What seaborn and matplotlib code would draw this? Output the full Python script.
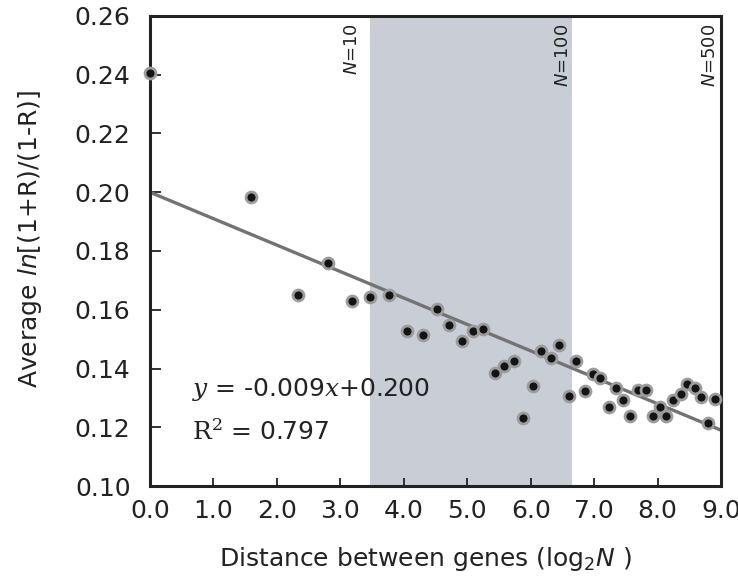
import numpy as np
import pandas as pd
import seaborn as sns
import matplotlib.pyplot as plt

# values
log2_dist = [0.00, 1.59, 2.33, 2.81, 3.19, 3.47, 3.77, 4.05, 4.30, 4.52,
             4.71, 4.91, 5.09, 5.25, 5.43, 5.58, 5.74, 5.88, 6.04, 6.16,
             6.32, 6.45, 6.60, 6.72, 6.85, 6.98, 7.10, 7.23, 7.34, 7.46,
             7.56, 7.69, 7.81, 7.92, 8.04, 8.14, 8.25, 8.37, 8.46, 8.59,
             8.69, 8.80, 8.91]
avg_ln = [0.2405, 0.1983, 0.1650, 0.1758, 0.1631, 0.1642, 0.1650, 0.1529, 0.1514, 0.1602,
          0.1548, 0.1494, 0.1528, 0.1533, 0.1386, 0.1410, 0.1426, 0.1230, 0.1341, 0.1460,
          0.1435, 0.1479, 0.1307, 0.1426, 0.1323, 0.1381, 0.1367, 0.1269, 0.1333, 0.1293,
          0.1239, 0.1327, 0.1327, 0.1239, 0.1268, 0.1239, 0.1293, 0.1312, 0.1348, 0.1333,
          0.1304, 0.1215, 0.1295]

marker_N = [10, 100, 500]
shade_range = [3.46, 6.65]
slope, intercept, r2 = -0.009, 0.200, 0.797

df = pd.DataFrame({"x": log2_dist, "y": avg_ln})

sns.set_style("ticks")
plt.rcParams["font.family"] = ["DejaVu Sans"]

fig = plt.figure(figsize=(7.38, 5.79), dpi=100)
ax = fig.add_axes([0.2033, 0.1606, 0.7737, 0.8118])

# shaded band between N~10 and N=100
ax.axvspan(shade_range[0], shade_range[1], color="#c9ced6", lw=0, zorder=0)

# fitted line spanning the whole x axis
xs = np.array([0.0, 9.05])
sns.lineplot(x=xs, y=intercept + slope * xs, ax=ax, color="#737373", lw=2.4, zorder=2)

sns.scatterplot(data=df, x="x", y="y", ax=ax, s=62, color="#141414",
                edgecolor="#9c9c9c", linewidth=2.0, zorder=3, clip_on=False)

for n in marker_N:
    ax.text(np.log2(n), 0.2575, f"$N$=" + str(n), rotation=90, ha="right", va="top",
            fontsize=13, color="#222222", math_fontfamily="dejavusans")

ax.text(0.66, 0.1328, r"$y$ = -0.009$x$+0.200", fontsize=18, va="center",
        color="#222222", math_fontfamily="dejavuserif")
ax.text(0.66, 0.1182, r"$\mathrm{R}^2$ = " + f"{r2:.3f}", fontsize=18, va="center",
        color="#222222", math_fontfamily="dejavuserif")

ax.set_xlim(0, 9.0)
ax.set_ylim(0.10, 0.26)
ax.set_xticks(np.arange(0, 9.01, 1.0))
ax.set_xticklabels([f"{v:.1f}" for v in np.arange(0, 9.01, 1.0)])
ax.set_yticks(np.arange(0.10, 0.261, 0.02))
ax.set_yticklabels([f"{v:.2f}" for v in np.arange(0.10, 0.261, 0.02)])

ax.tick_params(axis="both", direction="in", labelsize=18, colors="#222222", width=1.3)
ax.tick_params(axis="y", length=8, pad=14)
ax.tick_params(axis="x", length=6, pad=9)
for sp in ax.spines.values():
    sp.set_linewidth(2.2)
    sp.set_color("#222222")

ax.set_xlabel(r"Distance between genes (log$_2$$N$ )", fontsize=18, color="#222222",
              math_fontfamily="dejavusans")
ax.set_ylabel(r"Average $ln$[(1+R)/(1-R)]", fontsize=18, color="#222222",
              math_fontfamily="dejavusans")
ax.xaxis.set_label_coords(0.482, -0.125)
ax.yaxis.set_label_coords(-0.185, 0.525)

fig.savefig("out.png", dpi=100)
